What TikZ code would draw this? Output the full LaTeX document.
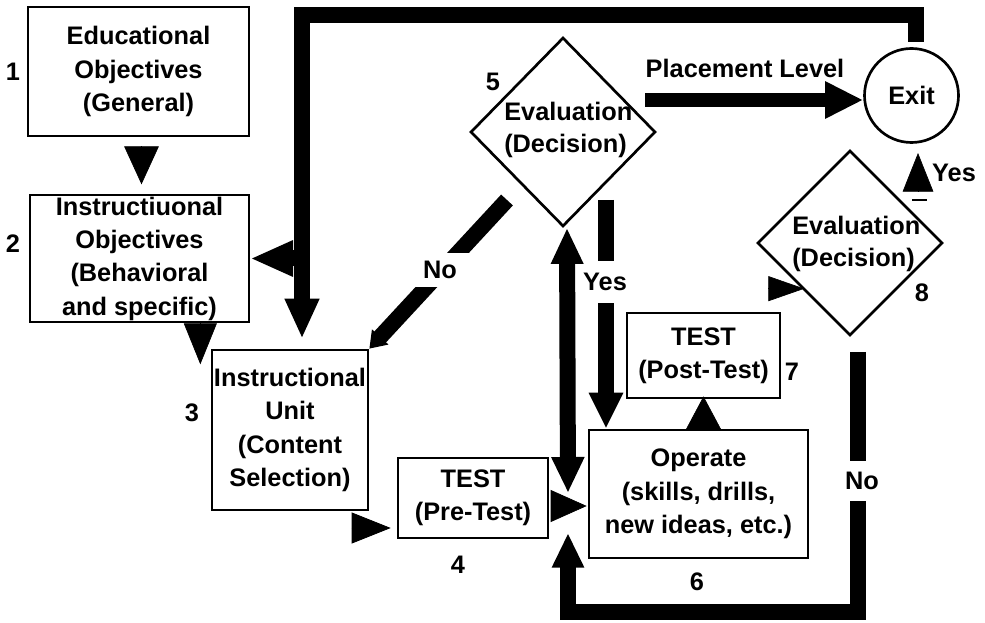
\documentclass[tikz,border=0pt]{standalone}
\usepackage{fontspec}
\setmainfont{Liberation Sans}
\usetikzlibrary{arrows.meta,shapes.geometric,calc}
\begin{document}
\begin{tikzpicture}[x=0.75pt,y=-0.75pt,
  txt/.style={font=\fontsize{19}{25}\selectfont\bfseries,align=center,inner sep=0pt},
  box/.style={txt,draw,line width=2pt},
  dia/.style={draw,line width=2pt,diamond,inner sep=0pt},
  fat/.style={line width=12pt,line join=miter},
  tip/.style={line width=0.5pt},
  lbl/.style={txt,fill=white,inner sep=0pt}]
\fill[white] (0,0) rectangle (985,623);
\useasboundingbox (0,0) rectangle (985,623);

% boxes
\node[box,minimum width=165.75pt,minimum height=96.75pt] (b1) at (138.5,71.5) {Educational\\Objectives\\(General)};
\node[box,minimum width=164.25pt,minimum height=95.25pt] (b2) at (139.5,258.5) {Instructiuonal\\Objectives\\(Behavioral\\and specific)};
\node[box,minimum width=117pt,minimum height=120pt] (b3) at (290,430) {Instructional\\Unit\\(Content\\Selection)};
\node[box,minimum width=112.5pt,minimum height=60pt] (b4) at (473,498) {TEST\\(Pre-Test)};
\node[box,minimum width=164.25pt,minimum height=96pt] (b6) at (698.5,494) {Operate\\(skills, drills,\\new ideas, etc.)};
\node[box,minimum width=114.75pt,minimum height=63.75pt] (b7) at (703.5,355.5) {TEST\\(Post-Test)};
\node[dia,minimum width=138.75pt,minimum height=141.75pt] (d5) at (563,132) {};
\node[dia,minimum width=138.75pt,minimum height=138.75pt] (d8) at (850,243) {};
\node[txt,align=left,anchor=west,font=\fontsize{19}{24}\selectfont\bfseries] (t5) at (504,130) {Evaluation\\(Decision)};
\node[txt,align=left,anchor=west,font=\fontsize{19}{24}\selectfont\bfseries] (t8) at (792,244) {Evaluation\\(Decision)};
\node[txt,draw,circle,line width=2pt,minimum size=70.5pt] (ex) at (911.5,95.5) {Exit};

% numbers
\node[txt] (n1) at (13,72) {1};
\node[txt] (n2) at (13,244) {2};
\node[txt] (n3) at (192,413) {3};
\node[txt] (n4) at (458,565) {4};
\node[txt] (n5) at (493,82) {5};
\node[txt] (n6) at (697,582) {6};
\node[txt] (n7) at (792,372) {7};
\node[txt] (n8) at (922,293) {8};

% top feedback loop
\coordinate (fR) at (916,15);
\coordinate (fL) at (302,15);
\draw[fat,-{Triangle[length=30pt,width=24pt]},shorten >=7.5pt] ($(ex.north)+(4.5,-5.5)$) -- (fR) -- (fL) -- (fL |- b3.north);
\draw[fat,-{Triangle[length=32pt,width=25pt]}] (fL |- b2.east) -- (b2.east);

% No from 5 to 3
\coordinate (noS) at (507,200);
\draw[fat,-{Triangle[length=12pt,width=16pt]}] (noS) -- (b3.north east);
\node[lbl,minimum width=45pt,minimum height=26pt] (lno1) at (440,270) {No};

% Yes from 5 to 6
\coordinate (yS) at (606,200);
\draw[fat,-{Triangle[length=27pt,width=24pt]}] (yS) -- (yS |- b6.north);
\node[lbl,minimum width=40pt,minimum height=31pt] (lyes1) at (605,282) {Yes};

% double arrow under 5
\coordinate (dblE) at (568,493);
\draw[fat,{Triangle[length=27pt,width=22.5pt]}-{Triangle[length=27pt,width=23pt]}] ($(d5.south)+(4,0)$) -- (dblE);

% bottom loop from 8 (No)
\coordinate (lpB) at (858,612);
\draw[fat,-{Triangle[length=26pt,width=22.5pt]}] ($(d8.south)+(8,15)$) -- (lpB) -- (lpB -| dblE) -- ($(dblE)+(0,40)$);
\node[lbl,minimum width=40pt,minimum height=30pt] (lno2) at (862,481) {No};

% Placement level
\coordinate (plS) at (645,100);
\draw[line width=11pt,-{Triangle[length=28.5pt,width=26pt]}] (plS) -- (plS -| ex.west);
\node[txt] (lpl) at (745,68) {Placement Level};

% exit yes
\coordinate (eyB) at (918,192);
\draw[tip,-{Triangle[length=29pt,width=23pt]}] (eyB) -- ($(eyB)+(0,-39)$);
\draw[line width=2pt] ($(eyB)+(-6,8)$) -- ($(eyB)+(9,8)$);
\node[txt] (lyes2) at (954,173) {Yes};

% shaftless arrowheads
\draw[tip,-{Triangle[length=28.5pt,width=26pt]}] ($(b1.south)+(3,9)$) -- ($(b1.south)+(3,47)$);
\draw[tip,-{Triangle[length=30.75pt,width=24.75pt]}] ($(b2.south east)+(-50,0)$) -- ($(b2.south east)+(-50,41)$);
\draw[tip,-{Triangle[length=29.25pt,width=23.25pt]}] ($(b4.west)+(-45,30)$) -- ($(b4.west)+(-6,30)$);
\draw[tip,-{Triangle[length=27pt,width=24pt]}] ($(b4.east)+(2,8)$) -- ($(b6.west)+(-1,12)$);
\draw[tip,-{Triangle[length=24.75pt,width=26.25pt]}] ($(b7.south)+(0,30)$) -- ($(b7.south)+(0,-3)$);
\draw[tip,-{Triangle[length=27pt,width=18.75pt]}] ($(b7.north east)+(-13,-23)$) -- ($(b7.north east)+(23,-23)$);
\end{tikzpicture}
\end{document}
